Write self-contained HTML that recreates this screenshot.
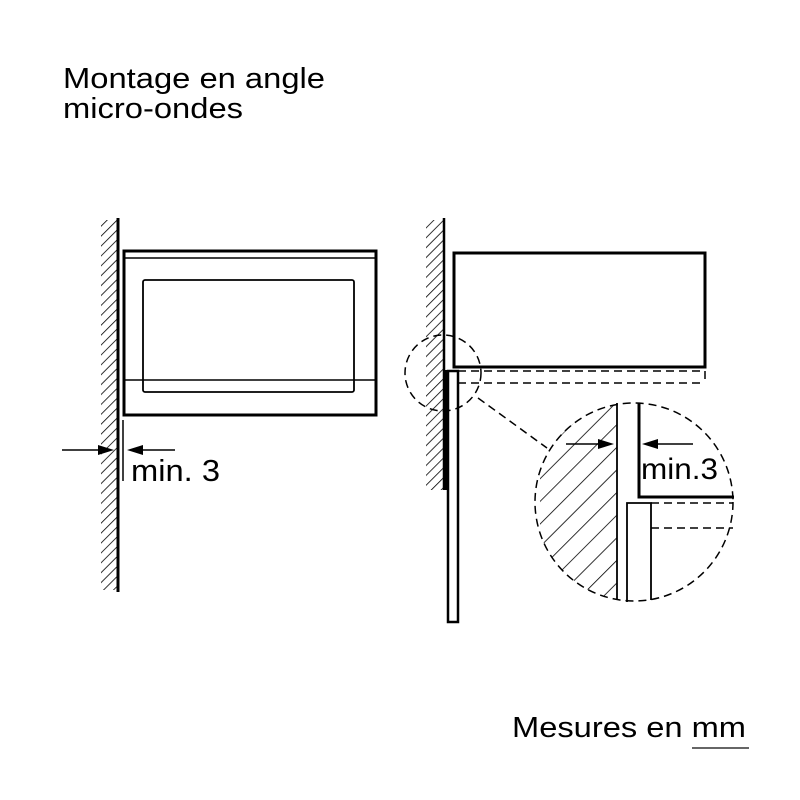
<!DOCTYPE html>
<html><head><meta charset="utf-8"><style>html,body{margin:0;padding:0;background:#fff}svg{display:block}</style></head>
<body>
<svg width="800" height="800" viewBox="0 0 800 800" xmlns="http://www.w3.org/2000/svg" font-family="Liberation Sans, sans-serif">
<defs>
<pattern id="h" width="7" height="7" patternUnits="userSpaceOnUse" patternTransform="rotate(45)">
<line x1="0" y1="0" x2="0" y2="7" stroke="#000" stroke-width="1.6"/>
</pattern>
<pattern id="h2" width="16" height="16" patternUnits="userSpaceOnUse" patternTransform="rotate(45)">
<line x1="0" y1="0" x2="0" y2="16" stroke="#000" stroke-width="1.6"/>
</pattern>
<clipPath id="cc"><circle cx="634" cy="502" r="99"/></clipPath>
</defs>
<text x="63" y="88" font-size="29" textLength="262" lengthAdjust="spacingAndGlyphs">Montage en angle</text>
<text x="63" y="118" font-size="29" textLength="180" lengthAdjust="spacingAndGlyphs">micro-ondes</text>

<!-- left -->
<rect x="101" y="220" width="16" height="370" fill="url(#h)"/>
<line x1="118" y1="218" x2="118" y2="592" stroke="#000" stroke-width="3"/>
<rect x="124" y="251" width="252" height="164" fill="none" stroke="#000" stroke-width="3"/>
<line x1="124" y1="258" x2="376" y2="258" stroke="#000" stroke-width="1.5"/>
<rect x="143" y="280" width="211" height="112" rx="2" fill="none" stroke="#000" stroke-width="1.8"/>
<line x1="124" y1="380" x2="376" y2="380" stroke="#000" stroke-width="1.5"/>
<line x1="123" y1="420" x2="123" y2="481" stroke="#000" stroke-width="1.5"/>
<line x1="62" y1="450" x2="100" y2="450" stroke="#000" stroke-width="1.5"/>
<polygon points="114,450 98,445 98,455" fill="#000"/>
<line x1="140" y1="450" x2="175" y2="450" stroke="#000" stroke-width="1.5"/>
<polygon points="127,450 143,445 143,455" fill="#000"/>
<text x="131" y="481" font-size="31" textLength="89" lengthAdjust="spacingAndGlyphs">min. 3</text>

<!-- right -->
<rect x="426" y="220" width="18" height="270" fill="url(#h)"/>
<line x1="444" y1="218" x2="444" y2="490" stroke="#000" stroke-width="2.5"/>
<rect x="444" y="370" width="4" height="120" fill="#000"/>
<rect x="448" y="371" width="10" height="251" fill="none" stroke="#000" stroke-width="2.5"/>
<rect x="454" y="253" width="251" height="114" fill="none" stroke="#000" stroke-width="3"/>
<g stroke="#000" stroke-width="1.5" fill="none" stroke-dasharray="8,5">
<line x1="458" y1="371" x2="705" y2="371"/>
<line x1="458" y1="383" x2="705" y2="383"/>
<line x1="705" y1="371" x2="705" y2="383"/>
<circle cx="443" cy="373" r="38"/>
<line x1="478" y1="398" x2="547" y2="448"/>
<circle cx="634" cy="502" r="99"/>
<line x1="651" y1="503" x2="733" y2="503"/>
<line x1="651" y1="528" x2="733" y2="528"/>
</g>
<g clip-path="url(#cc)">
<rect x="540" y="400" width="77" height="205" fill="url(#h2)"/>
</g>
<line x1="617" y1="403" x2="617" y2="600" stroke="#000" stroke-width="1.8"/>
<polyline points="627,602 627,503 651,503 651,600" fill="none" stroke="#000" stroke-width="1.8"/>
<polyline points="639,403 639,497 734,497" fill="none" stroke="#000" stroke-width="3"/>
<line x1="566" y1="444" x2="600" y2="444" stroke="#000" stroke-width="1.5"/>
<polygon points="614,444 598,439 598,449" fill="#000"/>
<line x1="656" y1="444" x2="693" y2="444" stroke="#000" stroke-width="1.5"/>
<polygon points="642,444 658,439 658,449" fill="#000"/>
<text x="641" y="479" font-size="30" textLength="77" lengthAdjust="spacingAndGlyphs">min.3</text>

<text x="512" y="737" font-size="29" textLength="234" lengthAdjust="spacingAndGlyphs">Mesures en mm</text>
<line x1="692" y1="748" x2="749" y2="748" stroke="#666" stroke-width="2"/>
</svg>
</body></html>
